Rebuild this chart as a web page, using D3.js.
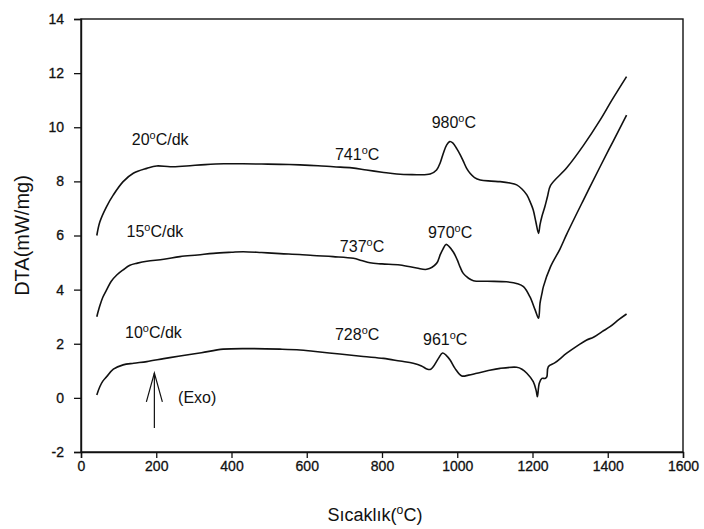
<!DOCTYPE html>
<html>
<head>
<meta charset="utf-8">
<script src="https://cdn.jsdelivr.net/npm/d3@7"></script>
<style>
  html, body { margin: 0; padding: 0; background: #fff; }
  svg { display: block; }
  text { font-family: "Liberation Sans", Arial, sans-serif; fill: #111; }
</style>
</head>
<body>
<svg id="chart" width="704" height="529"></svg>
<script>
// DTA curves at three heating rates (°C/dk): temperature (°C) and signal (mW/mg)
const temp20 = [42, 50, 68, 86, 112, 139, 175, 201, 237, 280, 330, 380, 430, 480, 530, 582, 630, 671, 720, 759, 800, 839, 880, 928, 945, 955, 963, 972, 980, 988, 999, 1008, 1016, 1025, 1034, 1046, 1061, 1090, 1114, 1140, 1158, 1172, 1185, 1195, 1202, 1209, 1216, 1220, 1225, 1233, 1240, 1248, 1291, 1335, 1380, 1411, 1450];
const dta20  = [6.0, 6.5, 7.07, 7.5, 7.99, 8.3, 8.48, 8.57, 8.54, 8.57, 8.62, 8.65, 8.65, 8.64, 8.63, 8.61, 8.58, 8.54, 8.5, 8.42, 8.34, 8.27, 8.25, 8.27, 8.42, 8.7, 9.04, 9.35, 9.47, 9.42, 9.2, 8.98, 8.75, 8.48, 8.3, 8.14, 8.05, 8.01, 7.99, 7.94, 7.87, 7.72, 7.5, 7.2, 6.94, 6.5, 6.08, 6.4, 6.7, 7.07, 7.45, 7.85, 8.5, 9.32, 10.27, 11.0, 11.87];

const temp15 = [42, 50, 58, 68, 80, 95, 112, 130, 150, 175, 220, 263, 310, 352, 400, 431, 480, 529, 580, 617, 670, 724, 745, 768, 800, 848, 892, 919, 945, 955, 962, 970, 978, 990, 1000, 1008, 1016, 1030, 1043, 1080, 1131, 1160, 1176, 1193, 1207, 1216, 1220, 1225, 1229, 1248, 1273, 1291, 1335, 1380, 1415, 1450];
const dta15  = [3.0, 3.4, 3.72, 3.99, 4.3, 4.54, 4.73, 4.9, 4.98, 5.05, 5.12, 5.22, 5.28, 5.34, 5.38, 5.4, 5.37, 5.33, 5.3, 5.26, 5.22, 5.16, 5.08, 4.99, 4.95, 4.91, 4.8, 4.75, 4.97, 5.3, 5.5, 5.67, 5.6, 5.38, 5.1, 4.82, 4.6, 4.42, 4.33, 4.31, 4.29, 4.22, 4.11, 3.74, 3.25, 2.94, 3.5, 3.85, 4.11, 4.85, 5.5, 6.05, 7.3, 8.55, 9.5, 10.45];

const temp10 = [42, 50, 58, 68, 86, 112, 140, 175, 220, 263, 320, 378, 450, 529, 582, 617, 688, 750, 804, 848, 883, 905, 919, 928, 936, 950, 961, 970, 981, 994, 1012, 1030, 1052, 1080, 1114, 1158, 1172, 1185, 1202, 1210, 1213, 1218, 1225, 1233, 1238, 1242, 1260, 1291, 1320, 1344, 1362, 1385, 1406, 1430, 1450];
const dta10  = [0.11, 0.41, 0.62, 0.78, 1.06, 1.22, 1.28, 1.34, 1.45, 1.55, 1.67, 1.8, 1.82, 1.8, 1.77, 1.72, 1.62, 1.53, 1.46, 1.36, 1.28, 1.18, 1.07, 1.05, 1.15, 1.46, 1.66, 1.58, 1.4, 1.09, 0.81, 0.84, 0.91, 1.0, 1.09, 1.13, 1.06, 0.91, 0.6, 0.25, 0.04, 0.54, 0.72, 0.72, 0.78, 1.15, 1.3, 1.65, 1.93, 2.14, 2.24, 2.45, 2.63, 2.9, 3.1];

// Axis ticks
const xTicks = [0, 200, 400, 600, 800, 1000, 1200, 1400, 1600];
const yTicks = [-2, 0, 2, 4, 6, 8, 10, 12, 14];

const series = [
  { temp: temp20, dta: dta20 },
  { temp: temp15, dta: dta15 },
  { temp: temp10, dta: dta10 }
];

const svg = d3.select("#chart");
const plot = { left: 81, right: 683, top: 19, bottom: 452 };

const x = d3.scaleLinear().domain([0, 1600]).range([plot.left, plot.right]);
const y = d3.scaleLinear().domain([-2, 14]).range([plot.bottom, plot.top]);

// Frame
svg.append("rect")
  .attr("x", plot.left).attr("y", plot.top)
  .attr("width", plot.right - plot.left).attr("height", plot.bottom - plot.top)
  .attr("fill", "none").attr("stroke", "#111").attr("stroke-width", 1.4);

// Axes (plain hyphen for negatives)
const fmt = d => String(d);
const xAxis = svg.append("g")
  .attr("transform", `translate(0,${plot.bottom})`)
  .call(d3.axisBottom(x).tickValues(xTicks).tickSize(6).tickPadding(3).tickFormat(fmt));
const yAxis = svg.append("g")
  .attr("transform", `translate(${plot.left},0)`)
  .call(d3.axisLeft(y).tickValues(yTicks).tickSize(7).tickPadding(10).tickFormat(fmt));

[xAxis, yAxis].forEach(g => {
  g.select(".domain").attr("stroke", "#111").attr("stroke-width", 1.4);
  g.selectAll(".tick line").attr("stroke", "#111").attr("stroke-width", 1.3);
  g.selectAll(".tick text")
    .attr("fill", "#111")
    .attr("stroke", "#111").attr("stroke-width", 0.3)
    .style("font-family", "'Liberation Sans', Arial, sans-serif")
    .style("font-size", "14px");
});

// Curves
const line = d3.line()
  .x(d => x(d[0]))
  .y(d => y(d[1]))
  .curve(d3.curveCatmullRom.alpha(0.5));

svg.append("g").selectAll("path")
  .data(series)
  .join("path")
  .attr("d", s => line(s.temp.map((t, i) => [t, s.dta[i]])))
  .attr("fill", "none")
  .attr("stroke", "#111")
  .attr("stroke-width", 1.6)
  .attr("stroke-linejoin", "round");

// Text with a raised "o" for the degree mark
function degText(g, before, after, px, py, size, anchor) {
  const t = g.append("text")
    .attr("x", px).attr("y", py)
    .attr("text-anchor", anchor || "start")
    .style("font-size", size + "px");
  t.append("tspan").text(before);
  t.append("tspan").text("o").attr("dy", -size * 0.38).style("font-size", (size * 0.68) + "px");
  t.append("tspan").text(after).attr("dy", size * 0.38);
  return t;
}

// Annotations placed in data coordinates
const notes = svg.append("g");
degText(notes, "20", "C/dk", x(135), y(9.35), 16);
degText(notes, "15", "C/dk", x(121), y(5.96), 16);
degText(notes, "10", "C/dk", x(117), y(2.21), 16);
degText(notes, "741", "C", x(675), y(8.79), 16);
degText(notes, "737", "C", x(688), y(5.40), 16);
degText(notes, "728", "C", x(675), y(2.14), 16);
degText(notes, "980", "C", x(932), y(9.96), 16);
degText(notes, "970", "C", x(922), y(5.91), 16);
degText(notes, "961", "C", x(909), y(1.95), 16);

notes.append("text")
  .attr("x", x(258)).attr("y", y(-0.19))
  .style("font-size", "16px")
  .text("(Exo)");

// Exotherm direction arrow
const ax = x(195);
notes.append("line")
  .attr("x1", ax).attr("x2", ax)
  .attr("y1", y(-1.11)).attr("y2", y(0.92))
  .attr("stroke", "#111").attr("stroke-width", 1.2);
notes.append("path")
  .attr("d", `M${ax - 8},${y(-0.15)} L${ax},${y(0.92)} L${ax + 8},${y(-0.15)}`)
  .attr("fill", "none").attr("stroke", "#111").attr("stroke-width", 1.2);

// Axis titles
degText(svg, "Sıcaklık(", "C)", (plot.left + plot.right) / 2 - 7, 521, 18, "middle");
svg.append("text")
  .attr("transform", `translate(29,${(plot.top + plot.bottom) / 2}) rotate(-90)`)
  .attr("text-anchor", "middle")
  .style("font-size", "20px")
  .text("DTA(mW/mg)");
</script>
</body>
</html>
